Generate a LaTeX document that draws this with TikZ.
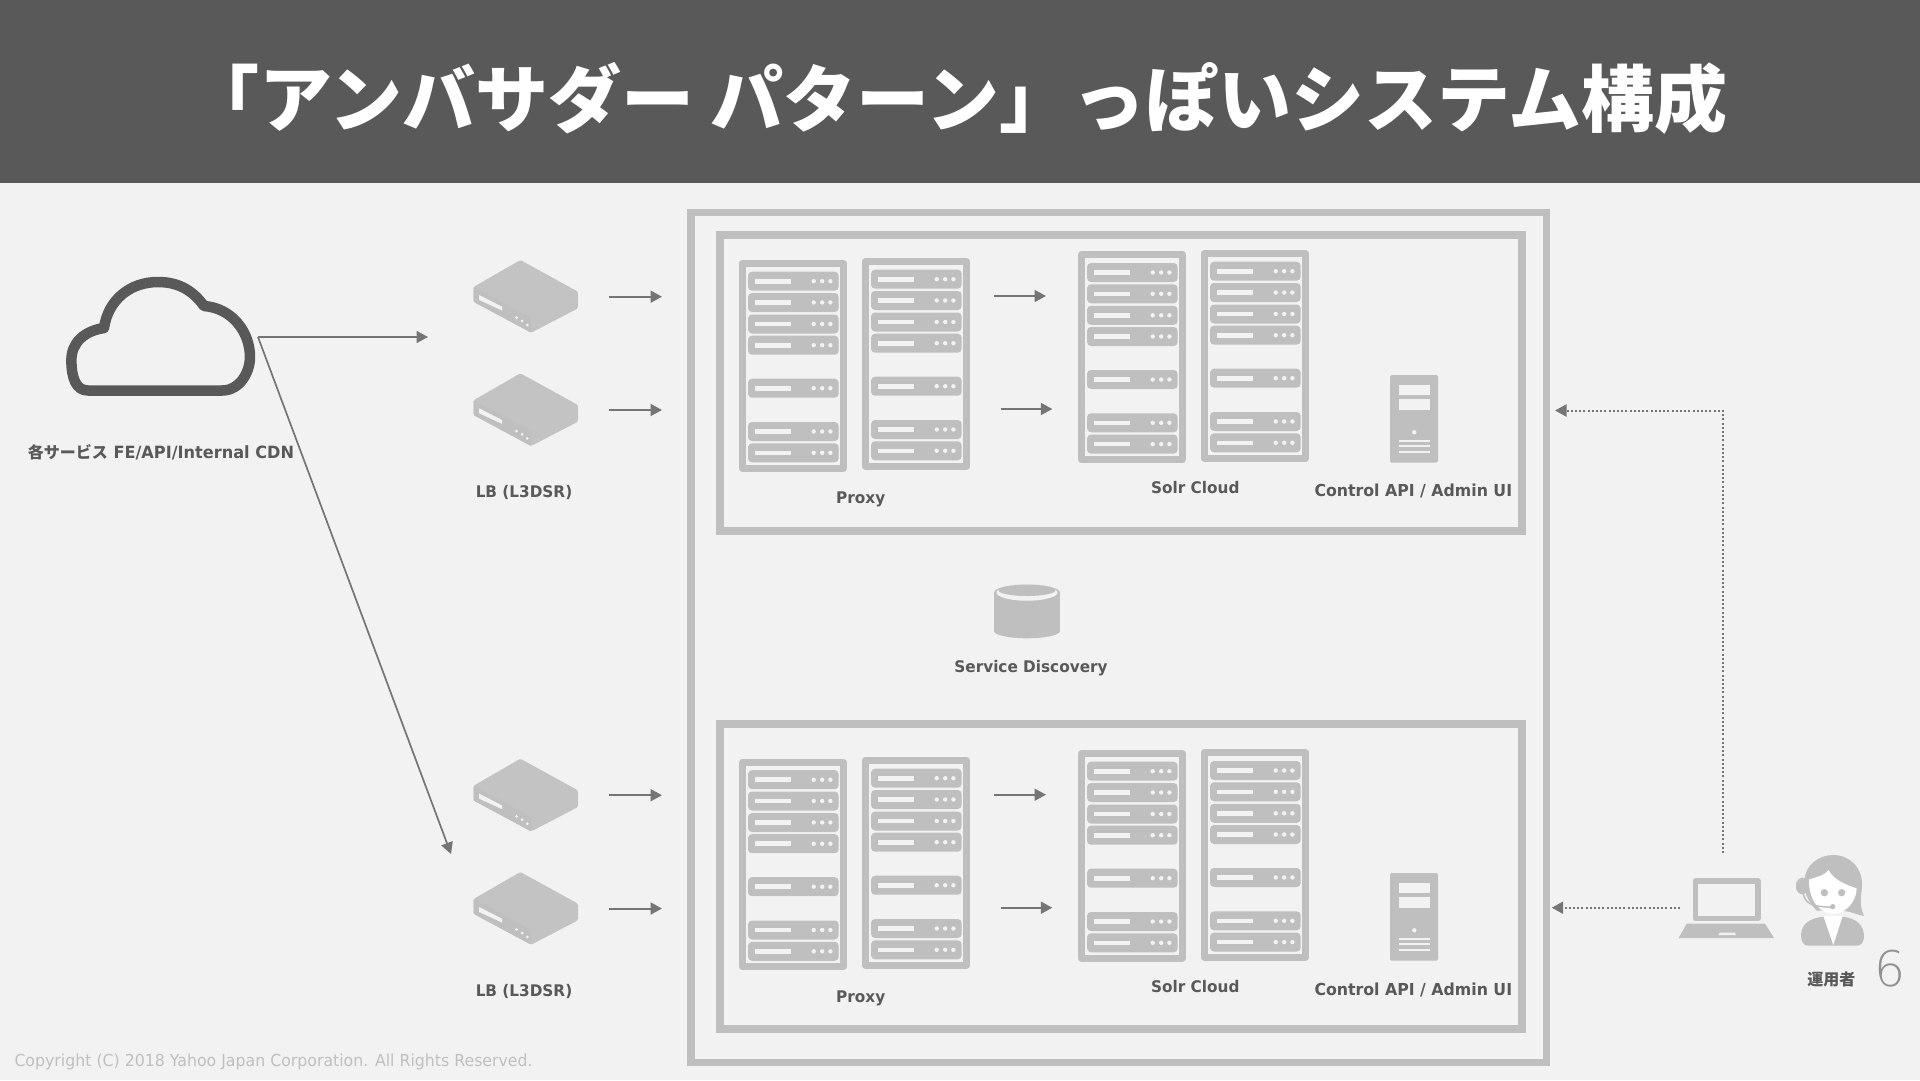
\documentclass[tikz,border=0pt]{standalone}
\usepackage{fontspec}
\usetikzlibrary{arrows.meta}
\newfontfamily\jpfont{Noto Sans CJK JP}
\newfontfamily\labelfont[FakeStretch=0.955]{DejaVu Sans}
\newfontfamily\pagefont{DejaVu Sans ExtraLight}
\definecolor{slide}{HTML}{F2F2F2}
\definecolor{band}{HTML}{595959}
\definecolor{icon}{HTML}{BFBFBF}
\definecolor{arrowgrey}{HTML}{757575}
\tikzset{
  wall/.style={draw=icon,line width=7.8pt,line join=miter},
  go/.style={draw=arrowgrey,line width=2pt,-{Triangle[length=11.5pt,width=12pt]}},
  dots/.style={go,dash pattern=on 2pt off 2.2pt},
  tag/.style={inner sep=0pt,text=band,font=\labelfont\bfseries\fontsize{16}{18}\selectfont},
  pics/rack/.style={code={
    \draw[draw=icon,line width=7pt,line join=round] (3.5,3.5) rectangle (104.8,208.2);
    \foreach \rowy in {11.7,33,54.5,75.7,118.7,162,183.3} {
      \fill[icon,rounded corners=4pt] (9.3,\rowy) rectangle (100,\rowy+19);
      \fill[slide] (16.3,\rowy+7.2) rectangle (52.7,\rowy+11.8);
      \foreach \doty in {75,83.5,91.7}
        \fill[slide] (\doty,\rowy+9.5) circle (2.2);
    }
  }},
  pics/tower/.style={code={
    \fill[icon,rounded corners=2pt] (0,0) rectangle (48,87.7);
    \fill[slide] (8.7,9.7) rectangle (40,20);
    \fill[slide] (8.7,23.7) rectangle (40,35);
    \fill[slide] (24.3,57.3) circle (2.2);
    \foreach \venty in {65.7,71,77}
      \fill[slide] (8.7,\venty-.9) rectangle (40,\venty+.9);
  }},
  pics/balancer/.style={code={
    \fill[icon!94!white,rounded corners=1.5pt] (46.9,0) -- (104.5,31.7) -- (104.5,48.3) -- (57.7,72.7)
      -- (0,41.7) -- (0,27) -- cycle;
    \fill[icon,rounded corners=1pt] (0,27) -- (57.7,58) -- (57.7,72.7) -- (0,41.7) -- cycle;
    \fill[slide] (5.7,35) -- (28.5,46.7) -- (28.5,50.5) -- (5.7,40) -- cycle;
    \fill[slide] (43,57.7) circle (1.5);
    \fill[slide] (48.6,61) circle (1.5);
    \fill[slide] (53.8,65) circle (1.5);
  }},
}
\begin{document}
\begin{tikzpicture}[x=1pt,y=-1pt]
  \useasboundingbox (0,0) rectangle (1920,1080);
  \fill[slide] (0,0) rectangle (1920,1080);
  \fill[band] (0,0) rectangle (1920,183);
  \node[anchor=base west,inner sep=0pt,text=white,font=\jpfont\bfseries\fontsize{73}{80}\selectfont]
    (title) at (186,126) {「アンバサダー パターン」っぽいシステム構成};

  % outer and inner frames
  \draw[wall,line width=7.5pt] (691.2,212.5) rectangle (1546.5,1062.3);
  \draw[wall] (720.3,235) rectangle (1522.2,530.7);
  \draw[wall] (720.3,724.3) rectangle (1522.2,1029.3);

  % cloud
  \draw[band,line width=10.5pt,line join=round] (88,390.5) .. controls (76,390.5) and (71.4,378) .. (71.4,360)
    .. controls (71.4,343) and (84,331) .. (104,328)
    .. controls (108,300) and (130,282) .. (158,282)
    .. controls (180,282) and (194,292) .. (204,306)
    .. controls (232,308) and (250,332) .. (250,357)
    .. controls (250,372) and (240,390.5) .. (222,390.5) -- cycle;
  \node[tag,anchor=base,font=\labelfont\bfseries\fontsize{16.9}{18}\selectfont] (cloudtag) at (161,458)
    {{\jpfont\fontsize{16}{18}\selectfont 各サービス} FE/API/Internal CDN};

  % load balancers
  \pic at (473.5,260) {balancer};
  \pic at (473.5,373.3) {balancer};
  \pic at (473.5,758.7) {balancer};
  \pic at (473.5,872) {balancer};
  \node[tag,anchor=base] (lbtop) at (524,497.5) {LB (L3DSR)};
  \node[tag,anchor=base] (lbbot) at (524,996) {LB (L3DSR)};

  % top row
  \pic at (738.7,260) {rack};
  \pic at (861.7,258) {rack};
  \pic at (1077.7,251.3) {rack};
  \pic at (1200.7,250) {rack};
  \pic at (1390,375) {tower};
  \node[tag,anchor=base] (proxytop) at (860.7,503.5) {Proxy};
  \node[tag,anchor=base] (solrtop) at (1195.3,493) {Solr Cloud};
  \node[tag,anchor=base,font=\labelfont\bfseries\fontsize{16.5}{18}\selectfont] (admintop) at (1413.3,496.5) {Control API / Admin UI};

  % bottom row
  \pic at (738.7,758.5) {rack};
  \pic at (861.7,757) {rack};
  \pic at (1077.7,750) {rack};
  \pic at (1200.7,749.3) {rack};
  \pic at (1390,873) {tower};
  \node[tag,anchor=base] (proxybot) at (860.7,1002) {Proxy};
  \node[tag,anchor=base] (solrbot) at (1195.3,992) {Solr Cloud};
  \node[tag,anchor=base,font=\labelfont\bfseries\fontsize{16.5}{18}\selectfont] (adminbot) at (1413.3,995) {Control API / Admin UI};

  % service discovery
  \fill[icon] (1027,631) ellipse (33 and 7.3);
  \fill[icon] (994,592.5) rectangle (1060,631);
  \fill[icon] (1027,592.5) ellipse (33 and 8);
  \fill[slide] (1027,592.5) ellipse (30.5 and 8.2);
  \fill[icon] (1027,590.3) ellipse (28.5 and 5.7);
  \node[tag,anchor=base] (discovery) at (1031,672) {Service Discovery};

  % connector ends
  \coordinate (cloudout) at (258,337);
  \coordinate (cloudtop) at (428,337);
  \coordinate (cloudbot) at (451,854);
  \foreach \liney/\linename in {296.7/a,410/b,795.2/c,908.5/d} {
    \coordinate (lbout\linename) at (609.3,\liney);
    \coordinate (lbin\linename) at (662,\liney);
  }
  \coordinate (proxyouta) at (994,296);
  \coordinate (solrina) at (1046,296);
  \coordinate (proxyoutb) at (1000.7,409);
  \coordinate (solrinb) at (1052.3,409);
  \coordinate (proxyoutc) at (994,794.7);
  \coordinate (solrinc) at (1046,794.7);
  \coordinate (proxyoutd) at (1000.7,907.7);
  \coordinate (solrind) at (1052.3,907.7);
  \coordinate (laptopup) at (1722.5,853);
  \coordinate (corner) at (1722.5,410.5);
  \coordinate (frameup) at (1555,410.5);
  \coordinate (laptopleft) at (1680,907.7);
  \coordinate (frameleft) at (1551.7,907.7);

  % connectors
  \draw[go,line width=1.7pt] (cloudout) -- (cloudtop);
  \draw[go,line width=1.7pt] (cloudout) -- (cloudbot);
  \foreach \linename in {a,b,c,d} {
    \draw[go] (lbout\linename) -- (lbin\linename);
    \draw[go] (proxyout\linename) -- (solrin\linename);
  }
  \draw[dots] (laptopup) -- (corner) -- (frameup);
  \draw[dots] (laptopleft) -- (frameleft);

  % laptop and operator
  \begin{scope}[shift={(1540,820)},scale=1/3]
    \draw[icon,line width=5.5pt,line join=round] (467,183) rectangle (654,295);
    \fill[icon] (440,311) -- (675,311) -- (702,354) -- (416,354) -- cycle;
    \fill[slide] (539,338) -- (584,338) -- (588,345) -- (535,345) -- cycle;
    \fill[icon,rounded corners=7pt] (768,173) rectangle (806,223);
    \fill[icon] (880,105) .. controls (930,105) and (968,145) .. (966,195)
      .. controls (965,230) and (955,250) .. (972,288)
      .. controls (950,285) and (930,272) .. (900,272) -- (830,272)
      .. controls (800,240) and (790,210) .. (793,180)
      .. controls (797,135) and (835,105) .. (880,105) -- cycle;
    \fill[white] (807,178) .. controls (830,172) and (855,165) .. (866,150)
      .. controls (880,180) and (920,195) .. (950,205)
      .. controls (950,245) and (915,282) .. (880,282)
      .. controls (840,282) and (805,240) .. (807,178) -- cycle;
    \fill[icon] (853,218) circle (11);
    \fill[icon] (905,218) circle (11);
    \draw[icon,line width=1.5pt] (790,222) .. controls (795,255) and (830,262) .. (878,261);
    \fill[icon] (878,260) circle (8);
    \fill[icon] (783,345) .. controls (785,310) and (810,295) .. (850,290)
      -- (908,290) .. controls (950,295) and (972,315) .. (972,350)
      .. controls (972,370) and (960,377) .. (950,377) -- (805,377)
      .. controls (790,377) and (783,365) .. (783,345) -- cycle;
    \fill[white] (850,288) -- (908,288) -- (880,375) -- cycle;
  \end{scope}
  \node[tag,anchor=base] (operator) at (1831.3,985)
    {\jpfont 運用者};

  % footer
  \node[anchor=base west,inner sep=0pt,text=icon,font=\labelfont\fontsize{16.5}{19}\selectfont]
    (copyright) at (14.3,1066) {Copyright (C) 2018 Yahoo Japan Corporation. All Rights Reserved.};
  \node[anchor=base,inner sep=0pt,text=arrowgrey!80!white,font=\pagefont\fontsize{49}{54}\selectfont]
    (pagenum) at (1890,986) {6};
\end{tikzpicture}
\end{document}
